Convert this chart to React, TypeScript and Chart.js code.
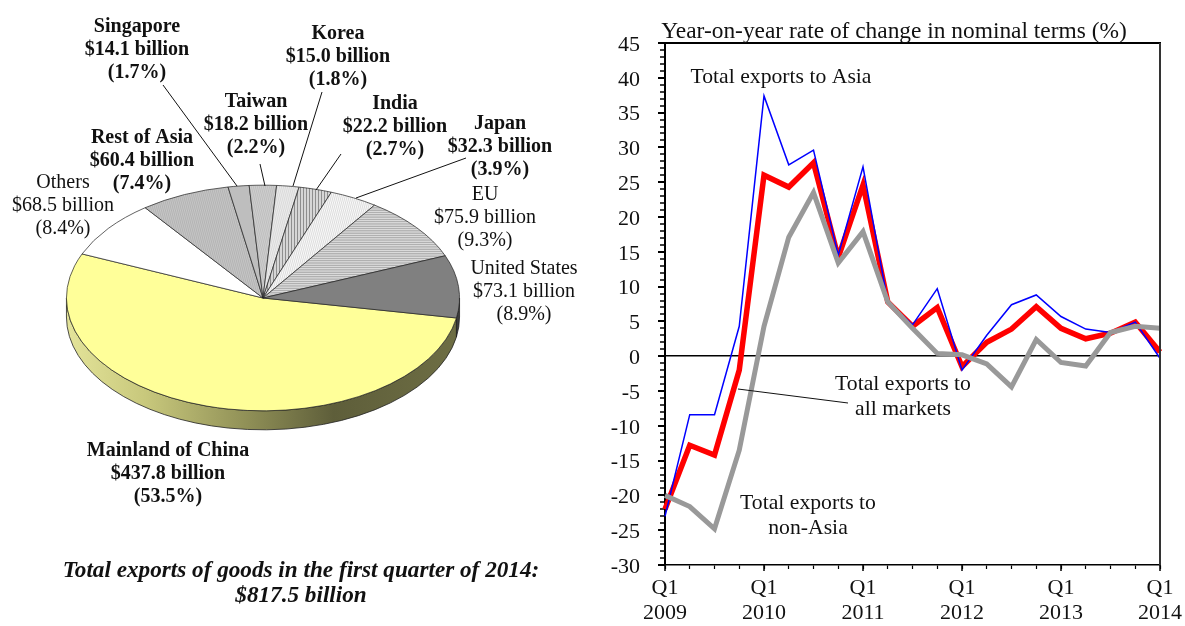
import React, { useEffect, useRef } from "react";
import { Chart, registerables } from "chart.js";

Chart.register(...registerables);

// ---- data: share chart
const marketNames = ["Mainland of China", "Others", "Rest of Asia", "Singapore", "Taiwan", "Korea", "India", "Japan", "EU", "United States"];
const marketValues = [437.8, 68.5, 60.4, 14.1, 18.2, 15.0, 22.2, 32.3, 75.9, 73.1];

// ---- data: growth chart
const quarters = ["Q1 2009", "Q2 2009", "Q3 2009", "Q4 2009", "Q1 2010", "Q2 2010", "Q3 2010", "Q4 2010", "Q1 2011", "Q2 2011", "Q3 2011", "Q4 2011", "Q1 2012", "Q2 2012", "Q3 2012", "Q4 2012", "Q1 2013", "Q2 2013", "Q3 2013", "Q4 2013", "Q1 2014"];
const exportsAsia = [-23, -8.4, -8.4, 4.3, 37.4, 27.5, 29.6, 14.5, 27.2, 7.8, 4.5, 9.7, -2, 3, 7.4, 8.8, 5.7, 3.9, 3.4, 4.9, -0.3];
const exportsAll = [-22, -12.8, -14.2, -2, 26, 24.3, 27.8, 14.2, 24.6, 7.8, 4.3, 7, -1.5, 2, 3.9, 7.1, 4, 2.5, 3.3, 4.9, 0.6];
const exportsNonAsia = [-20, -21.6, -24.8, -13.5, 4.3, 17.1, 23.5, 13.4, 17.9, 7.8, 4, 0.4, 0.2, -1.1, -4.4, 2.4, -0.9, -1.4, 3.4, 4.3, 4];

const SERIF = '"Liberation Serif", "Times New Roman", serif';

type Note = { lines: string[]; x: number; y: number; font: string; gap: number };

const BOLD = `bold 20px ${SERIF}`;
const REG = `20px ${SERIF}`;
const pieNotes: Note[] = [
  { lines: ["Singapore", "$14.1 billion", "(1.7%)"], x: 137, y: 25, font: BOLD, gap: 23 },
  { lines: ["Korea", "$15.0 billion", "(1.8%)"], x: 338, y: 32, font: BOLD, gap: 23 },
  { lines: ["Taiwan", "$18.2 billion", "(2.2%)"], x: 256, y: 100, font: BOLD, gap: 23 },
  { lines: ["India", "$22.2 billion", "(2.7%)"], x: 395, y: 102, font: BOLD, gap: 23 },
  { lines: ["Japan", "$32.3 billion", "(3.9%)"], x: 500, y: 122, font: BOLD, gap: 23 },
  { lines: ["Rest of Asia", "$60.4 billion", "(7.4%)"], x: 142, y: 136, font: BOLD, gap: 23 },
  { lines: ["Others", "$68.5 billion", "(8.4%)"], x: 63, y: 181, font: REG, gap: 23 },
  { lines: ["EU", "$75.9 billion", "(9.3%)"], x: 485, y: 193, font: REG, gap: 23 },
  { lines: ["United States", "$73.1 billion", "(8.9%)"], x: 524, y: 267, font: REG, gap: 23 },
  { lines: ["Mainland of China", "$437.8 billion", "(53.5%)"], x: 168, y: 449, font: BOLD, gap: 23 },
  { lines: ["Total exports of goods in the first quarter of 2014:", "$817.5 billion"], x: 301, y: 570, font: `italic bold 23.2px ${SERIF}`, gap: 25 },
];
const pieLeaders = [
  [163, 85, 237, 186],
  [260, 164, 265, 186],
  [322, 92, 293, 186],
  [341, 154, 316, 190],
  [466, 158, 356, 198],
];

const lineNotes: Note[] = [
  { lines: ["Year-on-year rate of change in nominal terms (%)"], x: 294, y: 30, font: `23.4px ${SERIF}`, gap: 25 },
  { lines: ["Total exports to Asia"], x: 181, y: 76, font: `21.7px ${SERIF}`, gap: 25 },
  { lines: ["Total exports to", "all markets"], x: 303, y: 383, font: `21.7px ${SERIF}`, gap: 25 },
  { lines: ["Total exports to", "non-Asia"], x: 208, y: 502, font: `21.7px ${SERIF}`, gap: 25 },
];
const lineLeaders = [[138, 389, 248, 403]];

function drawNotes(ctx: CanvasRenderingContext2D, notes: Note[], leaders: number[][]) {
  ctx.save();
  ctx.fillStyle = "#111";
  ctx.textAlign = "center";
  ctx.textBaseline = "middle";
  for (const n of notes) {
    ctx.font = n.font;
    n.lines.forEach((l, i) => ctx.fillText(l, n.x, n.y + 1.5 + i * n.gap));
  }
  ctx.strokeStyle = "#111";
  ctx.lineWidth = 1;
  for (const [a, b, c, d] of leaders) {
    ctx.beginPath();
    ctx.moveTo(a, b);
    ctx.lineTo(c, d);
    ctx.stroke();
  }
  ctx.restore();
}

function tile(size: number, bg: string, paint: (c: CanvasRenderingContext2D) => void, ctx: CanvasRenderingContext2D) {
  const o = document.createElement("canvas");
  o.width = size;
  o.height = size;
  const c = o.getContext("2d")!;
  c.fillStyle = bg;
  c.fillRect(0, 0, size, size);
  paint(c);
  return ctx.createPattern(o, "repeat")!;
}

const dots = (col: string) => (c: CanvasRenderingContext2D) => {
  c.fillStyle = col;
  c.fillRect(0, 0, 1, 1);
  c.fillRect(1, 1, 1, 1);
};

function pieFills(ctx: CanvasRenderingContext2D) {
  return [
    "#FFFF99",
    "#FFFFFF",
    tile(2, "#C6C6C6", dots("#B4B4B4"), ctx),
    "#BEBEBE",
    tile(2, "#CECECE", dots("#BEBEBE"), ctx),
    tile(2, "#ECECEC", dots("#DADADA"), ctx),
    tile(3, "#D6D6D6", (c) => { c.fillStyle = "#8E8E8E"; c.fillRect(0, 0, 1, 3); }, ctx),
    tile(2, "#FAFAFA", dots("#DDDDDD"), ctx),
    tile(4, "#DADADA", (c) => { c.fillStyle = "#B0B0B0"; c.fillRect(0, 0, 4, 2); }, ctx),
    "#808080",
  ];
}

const TILT = 0.574;
const DEPTH = 19;

const tiltPlugin = {
  id: "tilt",
  beforeDatasetsDraw(chart: any) {
    const ctx: CanvasRenderingContext2D = chart.ctx;
    const arcs = chart.getDatasetMeta(0).data;
    const { x: cx, y: cy, outerRadius: R } = arcs[0];
    const ry = R * TILT;
    const grad = ctx.createLinearGradient(cx - R, 0, cx + R, 0);
    grad.addColorStop(0, "#E4E49A");
    grad.addColorStop(0.2, "#C8C87C");
    grad.addColorStop(0.45, "#929258");
    grad.addColorStop(0.68, "#5E5E3A");
    grad.addColorStop(1, "#6E6E44");
    ctx.save();
    ctx.strokeStyle = "#222";
    ctx.lineWidth = 0.8;
    arcs.forEach((arc: any, i: number) => {
      for (const off of [0, -2 * Math.PI]) {
        const a0 = Math.max(arc.startAngle + off, 0);
        const a1 = Math.min(arc.endAngle + off, Math.PI);
        if (a1 <= a0) continue;
        ctx.beginPath();
        ctx.ellipse(cx, cy + DEPTH, R, ry, 0, a0, a1);
        ctx.ellipse(cx, cy, R, ry, 0, a1, a0, true);
        ctx.closePath();
        ctx.fillStyle = i === 0 ? grad : "#3C3C3C";
        ctx.fill();
        ctx.stroke();
      }
    });
    ctx.restore();
    ctx.save();
    ctx.translate(cx, cy);
    ctx.scale(1, TILT);
    ctx.translate(-cx, -cy);
  },
  afterDatasetsDraw(chart: any) {
    chart.ctx.restore();
  },
  afterDraw(chart: any) {
    drawNotes(chart.ctx, pieNotes, pieLeaders);
  },
};

const framePlugin = {
  id: "frame",
  afterDatasetsDraw(chart: any) {
    const { ctx, chartArea: a, scales } = chart;
    ctx.save();
    ctx.lineCap = "butt";
    ctx.strokeStyle = "#000";
    ctx.lineWidth = 2;
    ctx.beginPath();
    ctx.moveTo(a.left - 7, a.top);
    ctx.lineTo(a.right + 1, a.top);
    ctx.stroke();
    ctx.strokeStyle = "#333";
    ctx.beginPath();
    ctx.moveTo(a.right, a.top);
    ctx.lineTo(a.right, a.bottom);
    ctx.stroke();
    ctx.strokeStyle = "#000";
    ctx.lineWidth = 2;
    scales.y.ticks.forEach((t: any, i: number) => {
      if (t.value % 5 !== 0) return;
      const p = Math.round(scales.y.getPixelForTick(i));
      ctx.beginPath();
      ctx.moveTo(a.left - 7, p);
      ctx.lineTo(a.left, p);
      ctx.stroke();
    });
    ctx.lineWidth = 1.5;
    scales.x.ticks.forEach((t: any, i: number) => {
      if (i % 4 !== 0) return;
      const p = Math.round(scales.x.getPixelForTick(i));
      ctx.beginPath();
      ctx.moveTo(p, a.bottom);
      ctx.lineTo(p, a.bottom + 6);
      ctx.stroke();
    });
    ctx.restore();
  },
  afterDraw(chart: any) {
    drawNotes(chart.ctx, lineNotes, lineLeaders);
  },
};

export default function App() {
  const pieRef = useRef<HTMLCanvasElement>(null);
  const lineRef = useRef<HTMLCanvasElement>(null);

  useEffect(() => {
    const pieCtx = pieRef.current!.getContext("2d")!;
    const pie = new Chart(pieRef.current!, {
      type: "pie",
      data: {
        labels: marketNames,
        datasets: [{ data: marketValues, backgroundColor: pieFills(pieCtx) as any, borderColor: "#222", borderWidth: 0.9, clip: false as any }],
      },
      options: {
        responsive: false,
        animation: false,
        devicePixelRatio: 1,
        rotation: 100.2,
        layout: { padding: { left: 66, right: 140, top: 101, bottom: 131 } },
        plugins: { legend: { display: false }, tooltip: { enabled: false } },
      },
      plugins: [tiltPlugin],
    } as any);

    const line = new Chart(lineRef.current!, {
      type: "line",
      data: {
        labels: quarters,
        datasets: [
          { label: "Total exports to non-Asia", data: exportsNonAsia, borderColor: "#999999", borderWidth: 5 },
          { label: "Total exports to Asia", data: exportsAsia, borderColor: "#0000FF", borderWidth: 1.5 },
          { label: "Total exports to all markets", data: exportsAll, borderColor: "#FF0000", borderWidth: 5.5 },
        ].map((d) => ({ ...d, pointRadius: 0, tension: 0, fill: false, clip: false as any, borderJoinStyle: "miter" as const, borderCapStyle: "butt" as const })),
      },
      options: {
        responsive: false,
        animation: false,
        devicePixelRatio: 1,
        layout: { padding: { left: 0, right: 25, top: 43, bottom: 0 } },
        plugins: { legend: { display: false }, tooltip: { enabled: false } },
        scales: {
          x: {
            type: "category",
            offset: false,
            afterFit: (s: any) => { s.height = 61; s.paddingLeft = 0; s.paddingRight = 0; },
            grid: { drawOnChartArea: false, drawTicks: true, tickLength: 4, tickColor: "#000", tickWidth: 1.2, offset: false },
            border: { display: true, color: "#000", width: 1.5 },
            ticks: {
              autoSkip: false,
              maxRotation: 0,
              minRotation: 0,
              padding: 7,
              color: "#111",
              font: { family: SERIF, size: 22, lineHeight: 1.136 },
              callback(_v: any, i: number) {
                const [q, y] = quarters[i].split(" ");
                return q === "Q1" ? [q, y] : "";
              },
            },
          },
          y: {
            type: "linear",
            min: -30,
            max: 45,
            afterFit: (s: any) => { s.width = 65; s.paddingTop = 0; s.paddingBottom = 0; },
            grid: {
              drawTicks: true,
              tickLength: 5,
              tickColor: "#000",
              tickWidth: 1.5,
              color: (c: any) => (c.tick.value === 0 ? "#000" : "rgba(0,0,0,0)"),
              lineWidth: (c: any) => (c.tick.value === 0 ? 1.5 : 0),
            },
            border: { display: true, color: "#000", width: 2 },
            ticks: {
              stepSize: 1,
              autoSkip: false,
              padding: 20,
              labelOffset: 2,
              color: "#111",
              font: { family: SERIF, size: 22 },
              callback: (v: any) => (Number(v) % 5 === 0 ? String(v) : ""),
            },
          },
        },
      },
      plugins: [framePlugin],
    } as any);

    return () => {
      pie.destroy();
      line.destroy();
    };
  }, []);

  return (
    <div style={{ position: "absolute", left: 0, top: 0, width: 1185, height: 626, overflow: "hidden", background: "#fff" }}>
      <canvas ref={pieRef} width={600} height={626} style={{ position: "absolute", left: 0, top: 0, width: 600, height: 626 }} />
      <canvas ref={lineRef} width={585} height={626} style={{ position: "absolute", left: 600, top: 0, width: 585, height: 626 }} />
    </div>
  );
}
